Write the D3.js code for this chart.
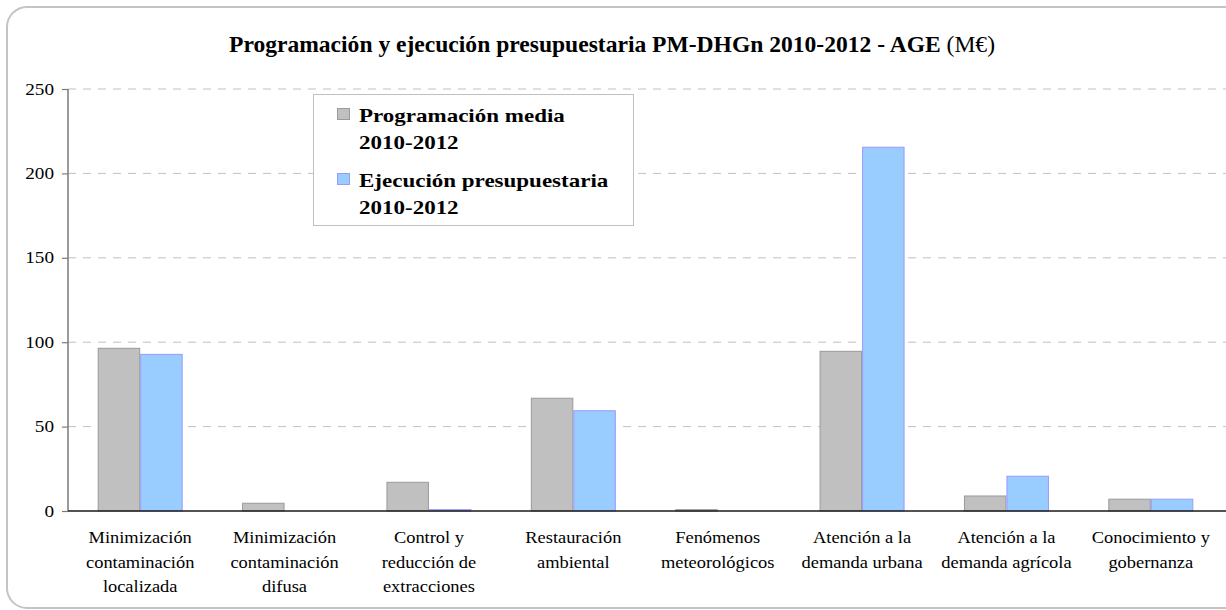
<!DOCTYPE html>
<html>
<head>
<meta charset="utf-8">
<script src="https://cdn.jsdelivr.net/npm/d3@7"></script>
<style>
  body { margin: 0; background: #fff; }
  svg { display: block; }
  text { font-family: "Liberation Serif", "Times New Roman", serif; fill: #000; }
</style>
</head>
<body>
<svg id="chart" width="1226" height="610"></svg>
<script>
// Measures of the 2010-2012 programme (M€)
const categories = [
  "Minimización\ncontaminación\nlocalizada",
  "Minimización\ncontaminación\ndifusa",
  "Control y\nreducción de\nextracciones",
  "Restauración\nambiental",
  "Fenómenos\nmeteorológicos",
  "Atención a la\ndemanda urbana",
  "Atención a la\ndemanda agrícola",
  "Conocimiento y\ngobernanza"
];
const programacion = [96.4, 4.6, 17.0, 66.8, 0.8, 94.6, 8.9, 7.0];
const ejecucion    = [92.8, 0, 0.8, 59.4, 0, 215.5, 20.6, 7.0];
const seriesKeys   = ["programacion", "ejecucion"];
const seriesLabels = [["Programación media", "2010-2012"], ["Ejecución presupuestaria", "2010-2012"]];
const yTicks = [0, 50, 100, 150, 200, 250];
const titleMain = "Programación y ejecución presupuestaria PM-DHGn 2010-2012 - AGE ";
const titleUnit = "(M€)";

const colors = {
  programacion: { fill: "#c0c0c0", stroke: "#9a9a9a" },
  ejecucion:    { fill: "#99ccff", stroke: "#9999ff" }
};

const svg = d3.select("#chart");
const plot = { left: 68, right: 1223, top: 89, bottom: 511 };

// stretch text horizontally so the serif face runs as wide as the chart's lettering
function stretch(sel, k) {
  sel.each(function () {
    const w = this.getComputedTextLength();
    d3.select(this).attr("textLength", w * k).attr("lengthAdjust", "spacingAndGlyphs");
  });
}

// outer frame (runs past the right edge)
svg.append("rect")
  .attr("x", 7).attr("y", 7)
  .attr("width", 1250).attr("height", 601)
  .attr("rx", 20).attr("ry", 20)
  .attr("fill", "#fff").attr("stroke", "#c4c4c4").attr("stroke-width", 2);

// title
const title = svg.append("text")
  .attr("x", 612).attr("y", 52)
  .attr("text-anchor", "middle")
  .attr("font-size", 23);
title.append("tspan").attr("font-weight", "bold").text(titleMain);
title.append("tspan").text(titleUnit);
title.attr("textLength", 766).attr("lengthAdjust", "spacingAndGlyphs");

const data = categories.map((c, i) => ({ cat: c, programacion: programacion[i], ejecucion: ejecucion[i] }));

const x0 = d3.scaleBand().domain(categories).range([plot.left, plot.right]);
const barW = 42.5;
const x1 = d3.scaleBand().domain(seriesKeys)
  .range([(x0.bandwidth() - 2 * barW) / 2, (x0.bandwidth() + 2 * barW) / 2]);
const y = d3.scaleLinear().domain([0, 250]).range([plot.bottom, plot.top]);

// dashed gridlines
svg.append("g")
  .selectAll("line")
  .data(yTicks.filter(t => t > 0))
  .join("line")
  .attr("x1", plot.left).attr("x2", 1226)
  .attr("y1", d => y(d)).attr("y2", d => y(d))
  .attr("stroke", "#c0c0c0").attr("stroke-width", 1)
  .attr("stroke-dasharray", "8,7");

// bars
const groups = svg.append("g")
  .selectAll("g")
  .data(data)
  .join("g")
  .attr("transform", d => `translate(${x0(d.cat)},0)`);

groups.selectAll("rect")
  .data(d => seriesKeys.map(k => ({ key: k, value: d[k] })).filter(v => v.value > 0))
  .join("rect")
  .attr("x", d => x1(d.key) + 0.5)
  .attr("width", x1.bandwidth() - 1)
  .attr("y", d => y(d.value))
  .attr("height", d => y(0) - y(d.value))
  .attr("fill", d => colors[d.key].fill)
  .attr("stroke", d => colors[d.key].stroke)
  .attr("stroke-width", 1);

// y axis
const yAxis = svg.append("g")
  .attr("transform", `translate(${plot.left},0)`)
  .call(d3.axisLeft(y).tickValues(yTicks).tickSize(6).tickPadding(8).tickFormat(d3.format("d")));
yAxis.select(".domain").attr("stroke", "#7a7a7a").attr("stroke-width", 1.5)
  .attr("d", `M0,${plot.top}V${plot.bottom}`);
yAxis.selectAll(".tick line").attr("stroke", "#7a7a7a").attr("stroke-width", 1.2);
yAxis.selectAll(".tick text")
  .attr("font-family", "Liberation Serif")
  .attr("font-size", 16)
  .attr("fill", "#000");
stretch(yAxis.selectAll(".tick text"), 1.2);

// x baseline
svg.append("line")
  .attr("x1", plot.left).attr("x2", 1226)
  .attr("y1", y(0)).attr("y2", y(0))
  .attr("stroke", "#1a1a1a").attr("stroke-width", 1.3);

// category labels
const labelG = svg.append("g");
categories.forEach(c => {
  const cx = x0(c) + x0.bandwidth() / 2;
  c.split("\n").forEach((line, j) => {
    const t = labelG.append("text")
      .attr("x", cx).attr("y", 543 + j * 24.5)
      .attr("text-anchor", "middle")
      .attr("font-size", 16)
      .text(line);
    stretch(t, 1.15);
  });
});

// legend
const lg = svg.append("g");
lg.append("rect")
  .attr("x", 313.5).attr("y", 94.5)
  .attr("width", 320).attr("height", 131)
  .attr("fill", "#fff").attr("stroke", "#c0c0c0").attr("stroke-width", 1);
seriesKeys.forEach((k, i) => {
  const top = 108 + i * 65;
  lg.append("rect")
    .attr("x", 337.5).attr("y", top + 0.5)
    .attr("width", 12).attr("height", 11)
    .attr("fill", colors[k].fill).attr("stroke", colors[k].stroke);
  seriesLabels[i].forEach((line, j) => {
    const t = lg.append("text")
      .attr("x", 359).attr("y", top + 14 + j * 26.5)
      .attr("font-size", 19).attr("font-weight", "bold")
      .text(line);
    stretch(t, 1.21);
  });
});
</script>
</body>
</html>
